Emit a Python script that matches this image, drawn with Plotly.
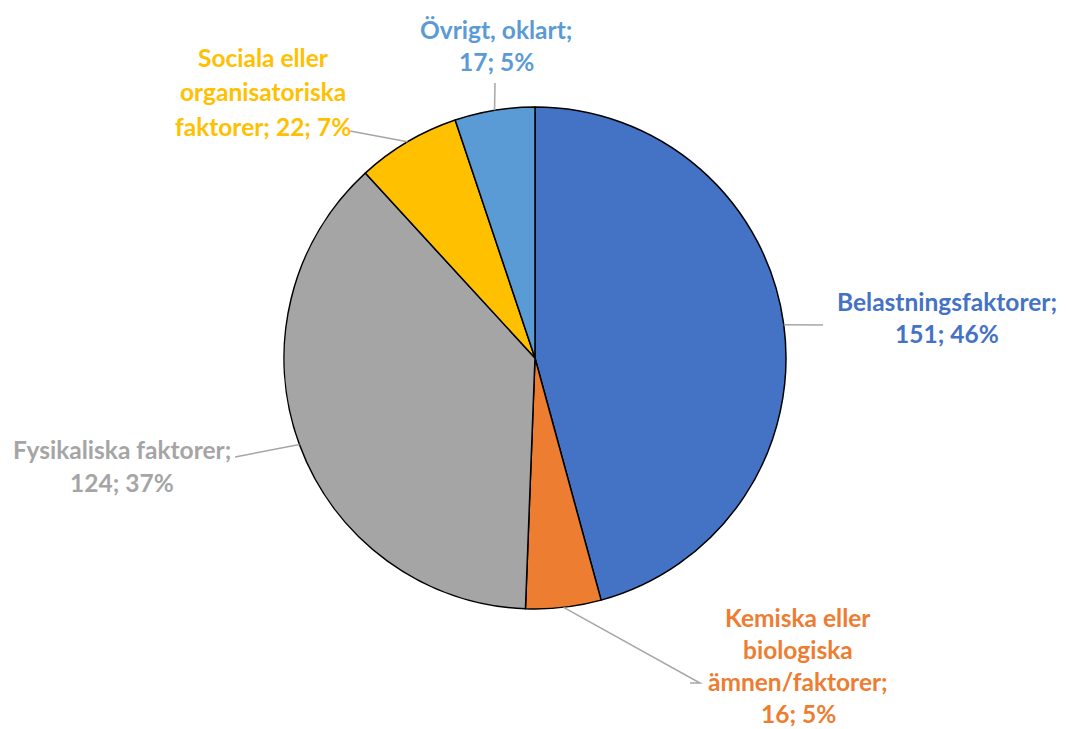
import math
import plotly.graph_objects as go

OFF = 8  # page body margin
W, H = 1066 - OFF, 729 - OFF

categories = ["Belastningsfaktorer", "Kemiska eller biologiska ämnen/faktorer",
              "Fysikaliska faktorer", "Sociala eller organisatoriska faktorer",
              "Övrigt, oklart"]
values = [151, 16, 124, 22, 17]
percents = [46, 5, 37, 7, 5]
colors = ["#4472C4", "#ED7D31", "#A5A5A5", "#FFC000", "#5B9BD5"]
label_lines = [
    ["Belastningsfaktorer;", "151; 46%"],
    ["Kemiska eller", "biologiska", "ämnen/faktorer;", "16; 5%"],
    ["Fysikaliska faktorer;", "124; 37%"],
    ["Sociala eller", "organisatoriska", "faktorer; 22; 7%"],
    ["Övrigt, oklart;", "17; 5%"],
]

# layout (screen pixels)
cx, cy, R = 535, 358, 251
# label block: centre x, first-line y, line spacing, leader end points
label_pos = [
    (947, 301, 32, (823, 325)),
    (798, 617, 32, (700, 683), (690, 683)),
    (122, 450, 32, (235, 457)),
    (263, 58, 34, (350, 131)),
    (496, 30, 32, (495, 83)),
]

def px(x):
    return (x - OFF) / W

def py(y):
    return 1 - (y - OFF) / H

fig = go.Figure(go.Pie(
    labels=categories, values=values, sort=False, direction="clockwise",
    rotation=0, textinfo="none", hoverinfo="label+value+percent",
    marker=dict(colors=colors, line=dict(color="black", width=1.5)),
    domain=dict(x=[px(cx - R), px(cx + R)], y=[py(cy + R), py(cy - R)]),
    showlegend=False,
))

total = sum(values)
cum = 0
shapes = []
annotations = []
for i, v in enumerate(values):
    mid = (cum + v / 2) / total * 2 * math.pi
    cum += v
    ax = cx + R * math.sin(mid)
    ay = cy - R * math.cos(mid)
    lp = label_pos[i]
    pts = [(ax, ay)] + list(lp[3:])
    path = "M " + " L ".join(f"{px(x)},{py(y)}" for x, y in pts)
    shapes.append(dict(type="path", path=path, xref="paper", yref="paper",
                       line=dict(color="#A6A6A6", width=1.5)))
    x0, y0, dy = lp[0], lp[1], lp[2]
    for j, t in enumerate(label_lines[i]):
        annotations.append(dict(
            text=f"<b>{t}</b>", x=px(x0), y=py(y0 + j * dy), xref="paper", yref="paper",
            xanchor="center", yanchor="middle", showarrow=False,
            font=dict(family="Lato", size=24.5, color=colors[i])))

fig.update_layout(width=W, height=H, margin=dict(l=0, r=0, t=0, b=0),
                  paper_bgcolor="white", plot_bgcolor="white",
                  shapes=shapes, annotations=annotations)
fig.write_html("out.html")
